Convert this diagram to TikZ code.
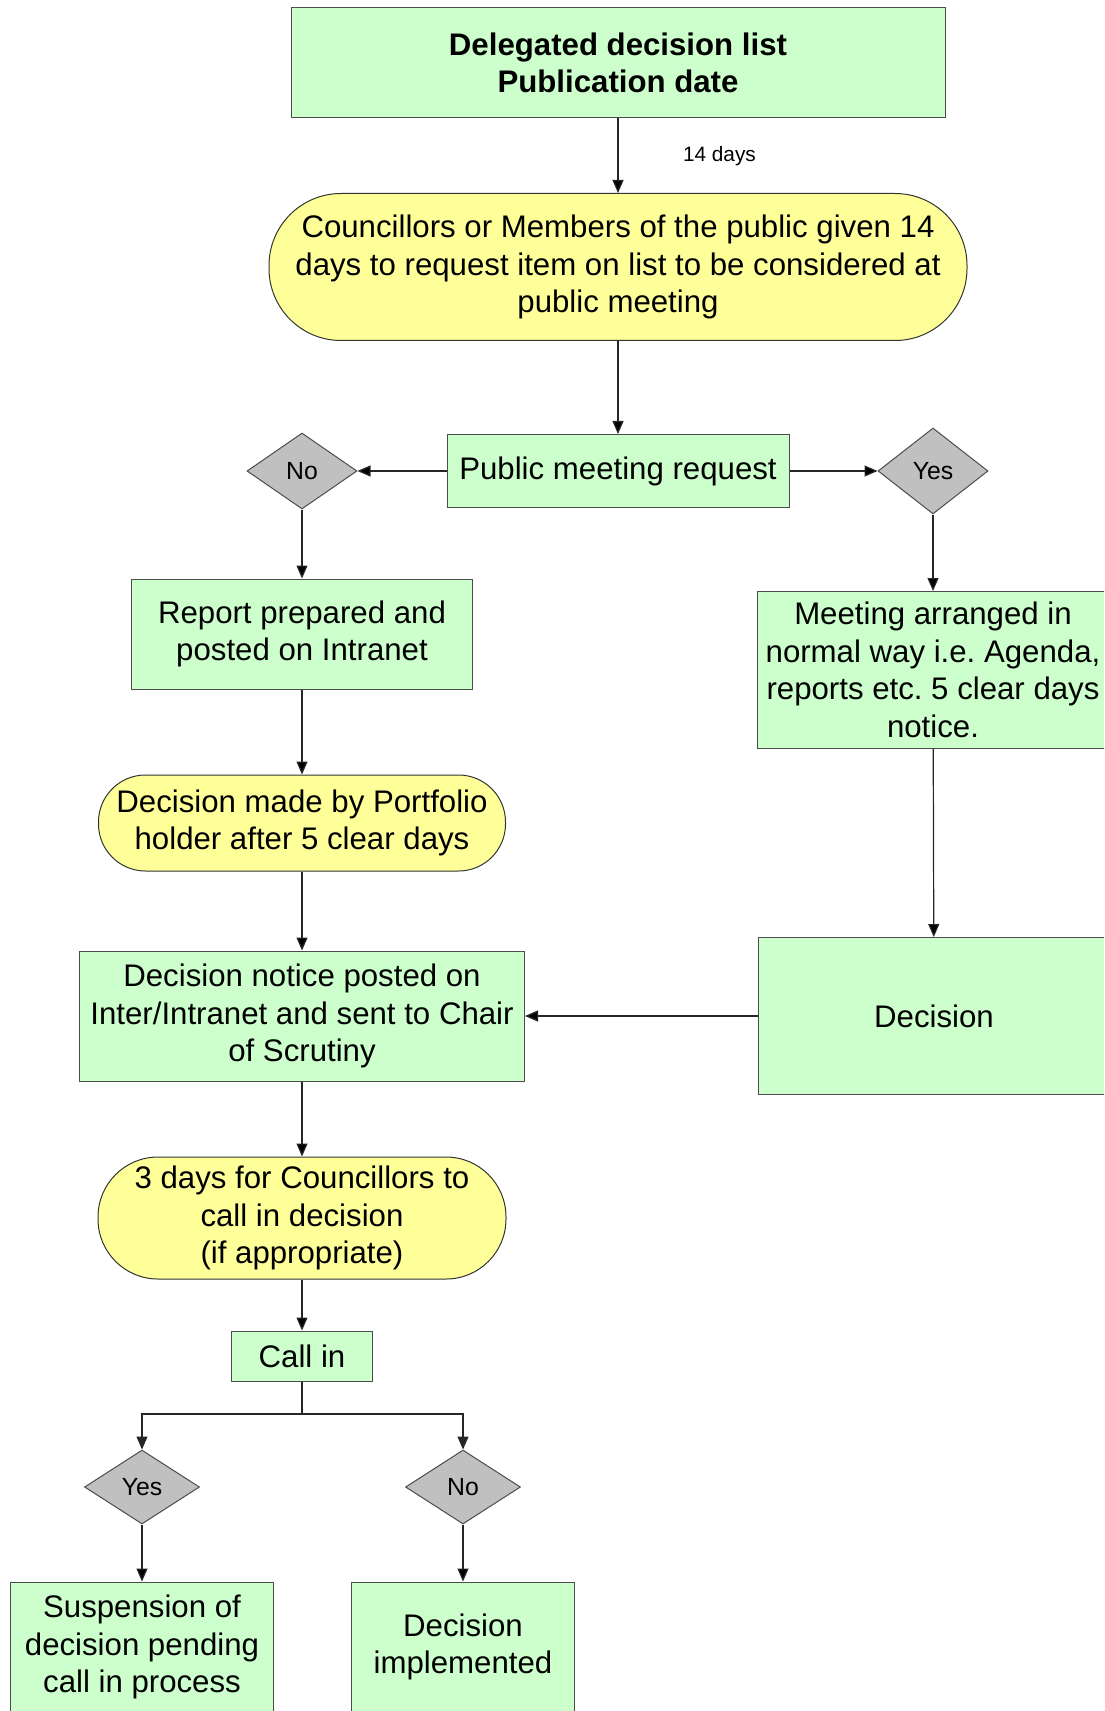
\documentclass[tikz,border=0pt]{standalone}
\usepackage{fontspec}
\setmainfont{Liberation Sans}
\usetikzlibrary{arrows.meta,positioning,shapes.geometric}
\frenchspacing

\definecolor{procgreen}{HTML}{CCFFCC}
\definecolor{termyellow}{HTML}{FFFF99}
\definecolor{choicegray}{HTML}{C0C0C0}

\begin{document}
\begin{tikzpicture}[x=0.5pt,y=-0.5pt,>={Triangle[length=6.5pt,width=5.5pt]},line width=0.6pt,node font=\fontsize{15.6}{18.8}\selectfont,on grid]
	\tikzstyle{proc}=[rectangle, draw=black!70, line width=0.5pt, fill=procgreen, align=center, inner sep=2pt]
	\tikzstyle{term}=[rectangle, draw=black!80, line width=0.5pt, fill=termyellow, align=center, inner sep=2pt]
	\tikzstyle{choice}=[diamond, draw=black!70, line width=0.5pt, fill=choicegray, inner sep=0pt, minimum width=55pt, minimum height=38pt, font=\fontsize{12.4}{14}\selectfont]
	
	\useasboundingbox (0,0) rectangle (1104,1711);
	\clip (0,0) rectangle (1104,1711);
	
	\node[proc, minimum width=327pt, minimum height=55pt, font=\bfseries] (list) at (618,63) {Delegated decision list\\Publication date};
	\node[term, minimum width=349pt, minimum height=73.5pt, rounded corners=36pt] (given) [below=102pt of list] {Councillors or Members of the public given 14\\days to request item on list to be considered at\\public meeting};
	\node[proc, minimum width=171pt, minimum height=36.5pt] (request) [below=102pt of given] {Public meeting request};
	\node[choice] (no) [left=158pt of request] {No};
	\node[choice, minimum height=43pt] (yes) [right=157.5pt of request] {Yes};
	\node[proc, minimum width=170.5pt, minimum height=55pt] (report) [below=81.5pt of no] {Report prepared and\\posted on Intranet};
	\node[proc, minimum width=176pt, minimum height=78.5pt] (meeting) [below=99.5pt of yes] {Meeting arranged in\\normal way i.e. Agenda,\\reports etc. 5 clear days\\notice.};
	\node[term, minimum width=203.5pt, minimum height=48pt, rounded corners=23.5pt] (portfolio) [below=94.5pt of report] {Decision made by Portfolio\\holder after 5 clear days};
	\node[proc, minimum width=222.5pt, minimum height=65pt] (notice) [below=96.5pt of portfolio] {Decision notice posted on\\Inter/Intranet and sent to Chair\\of Scrutiny};
	\node[proc, minimum width=176pt, minimum height=78.5pt] (decision) [right=316pt of notice] {Decision};
	\node[term, minimum width=204pt, minimum height=61pt, rounded corners=30pt] (calldays) [below=101pt of notice] {3 days for Councillors to\\call in decision\\(if appropriate)};
	\node[proc, minimum width=70.5pt, minimum height=25pt] (callin) [below=69pt of calldays] {Call in};
	\coordinate[below=29pt of callin] (split);
	\node[choice, minimum width=57.5pt, minimum height=37pt, xshift=-80pt, yshift=-36.5pt] (yescall) at (split) {Yes};
	\node[choice, minimum width=57.5pt, minimum height=37pt, xshift=80.5pt, yshift=-36.5pt] (nocall) at (split) {No};
	\node[proc, minimum width=131.5pt, minimum height=65pt] (suspend) [below=80pt of yescall] {Suspension of\\decision pending\\call in process};
	\node[proc, minimum width=111.5pt, minimum height=65pt] (implement) [below=80pt of nocall] {Decision\\implemented};
	
	\path[->, draw=black!85]
	(list) edge node [anchor=west, xshift=27pt, font=\fontsize{10.4}{12}\selectfont] {14 days} (given)
	(given) edge (request)
	(request) edge (no)
	(request) edge (yes)
	(no) edge (report)
	(yes) edge (meeting)
	(meeting) edge (decision)
	(report) edge (portfolio)
	(portfolio) edge (notice)
	(decision) edge (notice)
	(notice) edge (calldays)
	(calldays) edge (callin)
	(yescall) edge (suspend)
	(nocall) edge (implement);
	
	\draw[draw=black!85] (callin) -- (split);
	\draw[->, draw=black!85] (split) -| (yescall);
	\draw[->, draw=black!85] (split) -| (nocall);
\end{tikzpicture}
\end{document}
